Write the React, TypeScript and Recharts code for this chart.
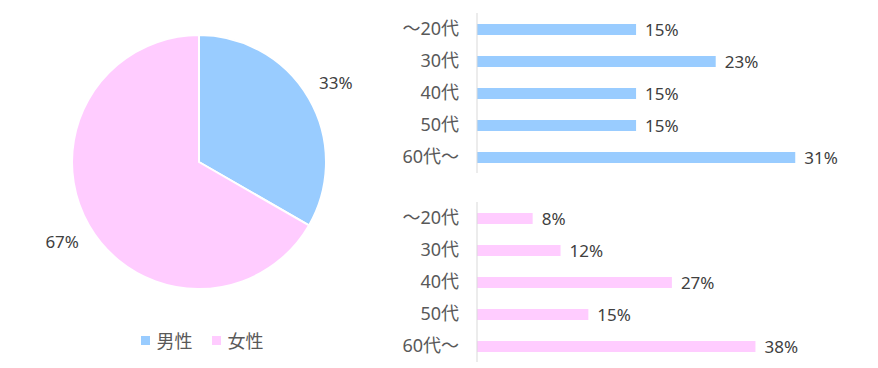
import React from "react";
import {
  PieChart,
  Pie,
  Cell,
  Legend,
  BarChart,
  Bar,
  XAxis,
  YAxis,
  LabelList,
} from "recharts";

// #region Data
const genders = ["男性", "女性"];
const genderShare = [33.33, 66.67];
const ageGroups = ["～20代", "30代", "40代", "50代", "60代～"];
const maleAge = [15.38, 23.08, 15.38, 15.38, 30.77];
const femaleAge = [7.69, 11.54, 26.92, 15.38, 38.46];
// #endregion

const BLUE = "#99CCFF";
const PINK = "#FFCCFF";
const FONT = "'Noto Sans', 'Noto Sans CJK JP', sans-serif";

const pieData = genders.map((name, i) => ({ name, value: genderShare[i] }));
const maleData = ageGroups.map((age, i) => ({ age, value: maleAge[i] }));
const femaleData = ageGroups.map((age, i) => ({ age, value: femaleAge[i] }));

const RAD = Math.PI / 180;

const renderPieLabel = (props: any) => {
  const { cx, cy, midAngle, outerRadius, value } = props;
  const r = outerRadius + 31;
  const x = cx + r * Math.cos(-midAngle * RAD);
  const y = cy + r * Math.sin(-midAngle * RAD);
  return (
    <text
      x={x}
      y={y}
      textAnchor="middle"
      dominantBaseline="central"
      fill="#404040"
      fontSize={17}
      fontFamily={FONT}
    >
      {Math.round(value)}%
    </text>
  );
};

const GenderLegend = () => (
  <div
    style={{
      display: "flex",
      justifyContent: "center",
      alignItems: "center",
      fontFamily: FONT,
      fontSize: 18,
      color: "#595959",
    }}
  >
    {genders.map((g, i) => (
      <span
        key={g}
        style={{ display: "flex", alignItems: "center", marginRight: i === 0 ? 19 : 0 }}
      >
        <span
          style={{
            width: 9,
            height: 9,
            background: i === 0 ? BLUE : PINK,
            marginRight: 7,
            display: "inline-block",
          }}
        />
        {g}
      </span>
    ))}
  </div>
);

function AgeChart({
  data,
  color,
  max,
  top,
}: {
  data: { age: string; value: number }[];
  color: string;
  max: number;
  top: number;
}) {
  return (
    <div style={{ position: "absolute", left: 380, top }}>
      <BarChart
        layout="vertical"
        width={480}
        height={190}
        data={data}
        margin={{ top: 13, right: 21, left: 0, bottom: 17 }}
        barCategoryGap="33%"
      >
        <XAxis type="number" domain={[0, max]} hide />
        <YAxis
          type="category"
          dataKey="age"
          width={97}
          axisLine={{ stroke: "#D9D9D9" }}
          tickLine={false}
          tickSize={0}
          tickMargin={18}
          tick={{ fill: "#595959", fontSize: 18, fontFamily: FONT }}
        />
        <Bar dataKey="value" fill={color} barSize={11} isAnimationActive={false}>
          <LabelList
            dataKey="value"
            position="right"
            offset={9}
            fill="#404040"
            fontSize={17}
            fontFamily={FONT}
            formatter={(v: any) => `${Math.round(Number(v))}%`}
          />
        </Bar>
      </BarChart>
    </div>
  );
}

export default function App() {
  return (
    <div
      style={{
        position: "absolute",
        left: 0,
        top: 0,
        width: 878,
        height: 368,
        background: "#fff",
        fontFamily: FONT,
      }}
    >
      <div style={{ position: "absolute", left: 0, top: 0 }}>
        <PieChart
          width={400}
          height={368}
          margin={{ top: 0, right: 0, bottom: 0, left: 0 }}
        >
          <Pie
            data={pieData}
            dataKey="value"
            nameKey="name"
            cx={199}
            cy={162}
            outerRadius={127}
            startAngle={90}
            endAngle={-270}
            stroke="#fff"
            strokeWidth={2}
            label={renderPieLabel}
            labelLine={false}
            isAnimationActive={false}
          >
            {pieData.map((d, i) => (
              <Cell key={d.name} fill={i === 0 ? BLUE : PINK} />
            ))}
          </Pie>
          <Legend
            content={<GenderLegend />}
            wrapperStyle={{ top: 327, left: 0, width: 404 }}
          />
        </PieChart>
      </div>
      <AgeChart data={maleData} color={BLUE} max={35} top={0} />
      <AgeChart data={femaleData} color={PINK} max={50} top={188.5} />
    </div>
  );
}
